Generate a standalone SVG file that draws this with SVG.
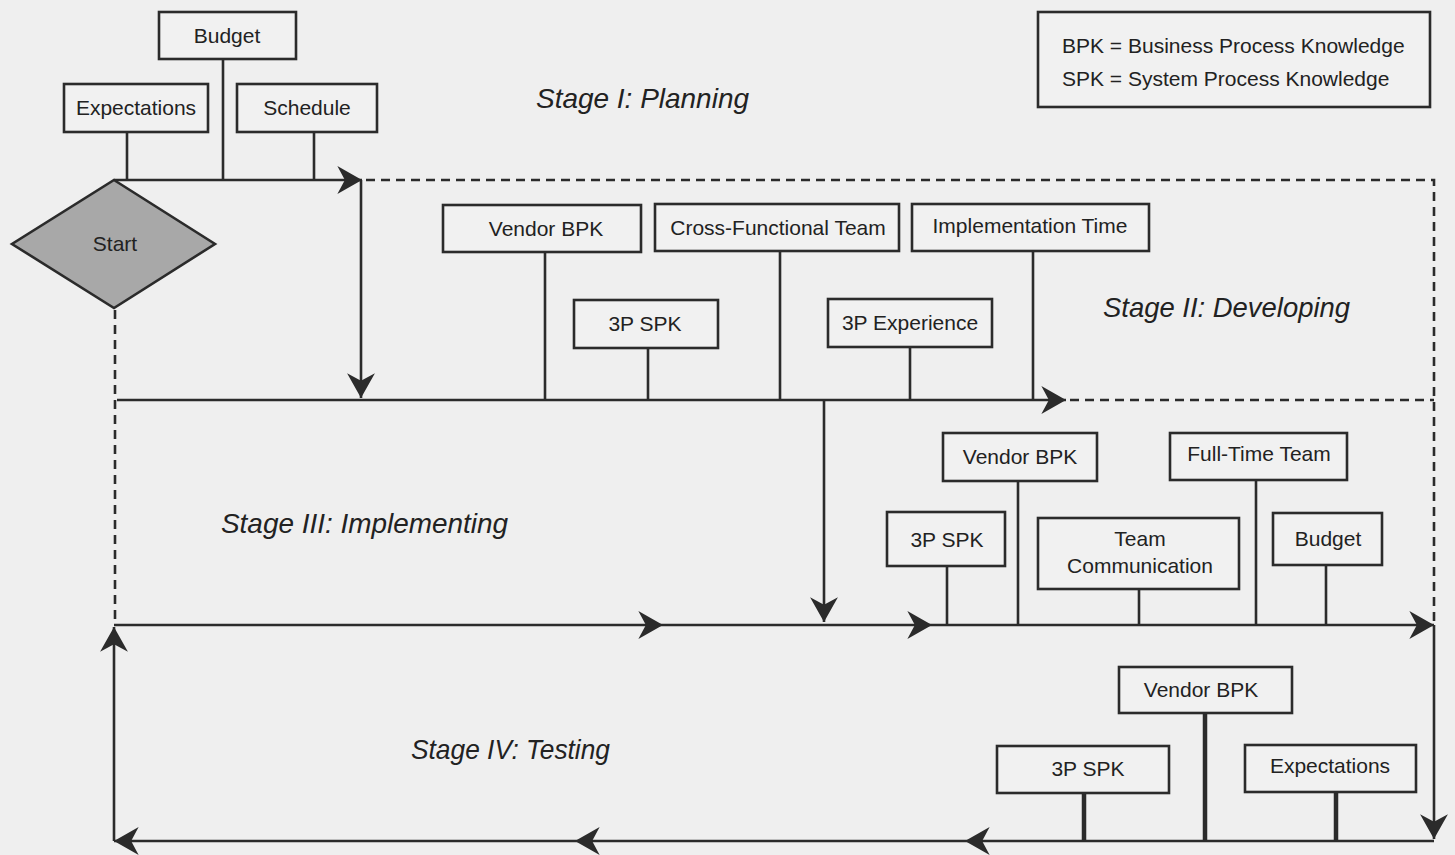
<svg xmlns="http://www.w3.org/2000/svg" width="1455" height="855" viewBox="0 0 1455 855">
<defs>
<marker id="ah" markerUnits="userSpaceOnUse" markerWidth="30" markerHeight="30" viewBox="-24 -14 26 28" refX="0" refY="0" orient="auto">
<path d="M0,0 L-23,-13 L-16,0 L-23,13 Z" fill="#2b2b2b"/>
</marker>
</defs>
<style>
.bx{fill:#f1f1f1;stroke:#2b2b2b;stroke-width:2.6}
.t{font-family:"Liberation Sans",Arial,sans-serif;font-size:21px;fill:#222;text-anchor:middle}
.st{font-family:"Liberation Sans",Arial,sans-serif;font-size:28px;font-style:italic;fill:#222}
.ln{fill:none;stroke:#2b2b2b;stroke-width:2.6}
.da{fill:none;stroke:#2b2b2b;stroke-width:2.6;stroke-dasharray:9 6}
.ar{marker-end:url(#ah)}
.thk{stroke-width:4.5}
</style>
<rect width="1455" height="855" fill="#efefef"/>

<g id="connectors">
<path class="ln" d="M127,132V180M223,59V180M314,132V180"/>
<path class="ln" d="M545,252V400M648,348V400M780,251V400M910,347V400M1033,251V400"/>
<path class="ln" d="M947,566V625M1018,481V625M1139,589V625M1256,480V625M1326,565V625"/>
<path class="ln thk" d="M1084,793V841M1205,713V841M1336,792V841"/>
<path class="ln ar" d="M114,180H362"/>
<path class="da" d="M366,180H1434V622"/>
<path class="ln ar" d="M361,180V398"/>
<path class="ln ar" d="M117,400H1066"/>
<path class="da" d="M1070,400H1434"/>
<path class="da" d="M115,310V622"/>
<path class="ln ar" d="M824,400V622"/>
<path class="ln ar" d="M114,625H663"/>
<path class="ln ar" d="M663,625H932"/>
<path class="ln ar" d="M932,625H1434"/>
<path class="ln ar" d="M1434,625V839"/>
<path class="ln ar" d="M1434,841H965"/>
<path class="ln ar" d="M965,841H575"/>
<path class="ln ar" d="M575,841H114"/>
<path class="ln ar" d="M114,841V627"/>
</g>

<g id="start">
<polygon points="114,180 215,244 114,308 12,244" fill="#a8a8a8" stroke="#2b2b2b" stroke-width="2.6"/>
<text class="t" x="115" y="251">Start</text>
</g>

<g id="legend">
<rect class="bx" x="1038" y="12" width="392" height="95" fill="none"/>
<text class="t" x="1062" y="53" style="text-anchor:start">BPK = Business Process Knowledge</text>
<text class="t" x="1062" y="86" style="text-anchor:start">SPK = System Process Knowledge</text>
</g>

<g id="stage-labels">
<text class="st" x="536" y="108" textLength="213" lengthAdjust="spacingAndGlyphs">Stage I: Planning</text>
<text class="st" x="1103" y="317" textLength="247" lengthAdjust="spacingAndGlyphs">Stage II: Developing</text>
<text class="st" x="221" y="533" textLength="287" lengthAdjust="spacingAndGlyphs">Stage III: Implementing</text>
<text class="st" x="411" y="759" textLength="199" lengthAdjust="spacingAndGlyphs">Stage IV: Testing</text>
</g>

<g id="s1-budget"><rect class="bx" x="159" y="12" width="137" height="47"/><text class="t" x="227" y="43">Budget</text></g>
<g id="s1-expectations"><rect class="bx" x="64" y="84" width="144" height="48"/><text class="t" x="136" y="115">Expectations</text></g>
<g id="s1-schedule"><rect class="bx" x="237" y="84" width="140" height="48"/><text class="t" x="307" y="115">Schedule</text></g>

<g id="s2-vendor-bpk"><rect class="bx" x="443" y="205" width="198" height="47"/><text class="t" x="546" y="236">Vendor BPK</text></g>
<g id="s2-cross-functional"><rect class="bx" x="655" y="204" width="244" height="47"/><text class="t" x="778" y="235">Cross-Functional Team</text></g>
<g id="s2-impl-time"><rect class="bx" x="912" y="204" width="237" height="47"/><text class="t" x="1030" y="233">Implementation Time</text></g>
<g id="s2-3p-spk"><rect class="bx" x="574" y="300" width="144" height="48"/><text class="t" x="645" y="331">3P SPK</text></g>
<g id="s2-3p-experience"><rect class="bx" x="828" y="299" width="164" height="48"/><text class="t" x="910" y="330">3P Experience</text></g>

<g id="s3-vendor-bpk"><rect class="bx" x="943" y="433" width="154" height="48"/><text class="t" x="1020" y="464">Vendor BPK</text></g>
<g id="s3-3p-spk"><rect class="bx" x="887" y="512" width="118" height="54"/><text class="t" x="947" y="547">3P SPK</text></g>
<g id="s3-team-comm"><rect class="bx" x="1038" y="518" width="201" height="71"/><text class="t" x="1140" y="546">Team</text><text class="t" x="1140" y="573">Communication</text></g>
<g id="s3-full-time"><rect class="bx" x="1170" y="433" width="177" height="47"/><text class="t" x="1259" y="461">Full-Time Team</text></g>
<g id="s3-budget"><rect class="bx" x="1273" y="513" width="109" height="52"/><text class="t" x="1328" y="546">Budget</text></g>

<g id="s4-vendor-bpk"><rect class="bx" x="1119" y="667" width="173" height="46"/><text class="t" x="1201" y="697">Vendor BPK</text></g>
<g id="s4-3p-spk"><rect class="bx" x="997" y="746" width="172" height="47"/><text class="t" x="1088" y="776">3P SPK</text></g>
<g id="s4-expectations"><rect class="bx" x="1245" y="745" width="171" height="47"/><text class="t" x="1330" y="773">Expectations</text></g>
</svg>
